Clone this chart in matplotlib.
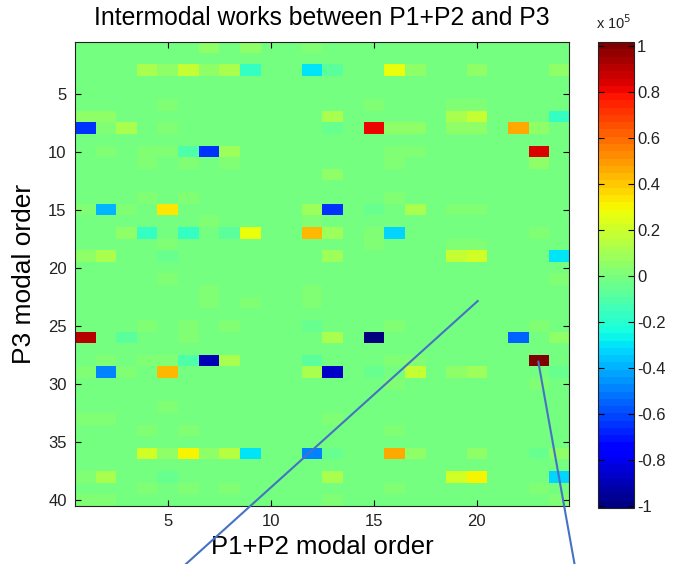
import matplotlib

matplotlib.use("Agg")
import matplotlib.pyplot as plt
import numpy as np
from matplotlib.lines import Line2D

plt.rcParams["font.family"] = ["Liberation Sans", "DejaVu Sans"]

N_P3 = 40      # rows: P3 modal order
N_P12 = 24     # columns: P1+P2 modal order

# non-zero intermodal works, in units of 1e5
P3_MODE = [
    1, 1, 1,
    3, 3, 3, 3, 3, 3, 3, 3, 3, 3, 3, 3,
    6, 6, 6, 6,
    7, 7, 7, 7, 7, 7,
    8, 8, 8, 8, 8, 8, 8, 8, 8, 8, 8, 8,
    10, 10, 10, 10, 10, 10, 10, 10, 10,
    11, 11, 11, 11, 11,
    12,
    14, 14, 14,
    15, 15, 15, 15, 15, 15, 15, 15, 15, 15,
    16, 16,
    17, 17, 17, 17, 17, 17, 17, 17, 17, 17,
    18, 18, 18, 18,
    19, 19, 19, 19, 19, 19, 19,
    21, 21,
    22, 22,
    23, 23, 23,
    25, 25, 25, 25, 25, 25,
    26, 26, 26, 26, 26, 26, 26,
    28, 28, 28, 28, 28, 28, 28, 28, 28, 28,
    29, 29, 29, 29, 29, 29, 29, 29, 29, 29, 29,
    30, 30,
    32,
    33, 33, 33,
    34, 34, 34,
    36, 36, 36, 36, 36, 36, 36, 36, 36, 36, 36, 36, 36,
    38, 38, 38, 38, 38, 38, 38,
    39, 39, 39, 39, 39,
    40, 40, 40, 40,
]
P12_MODE = [
    7, 9, 12,
    4, 5, 6, 7, 8, 9, 12, 13, 16, 17, 20, 24,
    5, 15, 19, 20,
    1, 2, 13, 19, 20, 24,
    1, 2, 3, 5, 13, 15, 16, 17, 19, 20, 22, 23,
    2, 4, 5, 6, 7, 8, 16, 17, 23,
    4, 6, 8, 16, 23,
    13,
    4, 6, 16,
    1, 2, 3, 5, 12, 13, 15, 17, 19, 20,
    7, 12,
    3, 4, 6, 8, 9, 12, 13, 15, 16, 23,
    5, 15, 19, 20,
    1, 2, 5, 13, 19, 20, 24,
    5, 24,
    7, 12,
    7, 9, 12,
    4, 6, 8, 12, 16, 23,
    1, 3, 6, 13, 15, 22, 24,
    2, 4, 5, 6, 7, 8, 12, 16, 17, 23,
    1, 2, 3, 5, 12, 13, 15, 17, 19, 20, 24,
    16, 23,
    5,
    1, 2, 13,
    4, 6, 16,
    4, 5, 6, 7, 8, 9, 12, 13, 16, 17, 20, 23, 24,
    1, 2, 5, 13, 19, 20, 24,
    4, 6, 8, 16, 23,
    1, 2, 13, 24,
]
WORK_E5 = [
    0.04, 0.04, 0.03,
    0.12, 0.04, 0.17, 0.04, 0.12, -0.18, -0.30, -0.06, 0.27, 0.04, 0.04, 0.05,
    0.03, 0.03, 0.03, 0.03,
    0.04, 0.04, 0.10, 0.12, 0.19, -0.18,
    -0.65, 0.03, 0.10, 0.03, -0.05, 0.80, 0.04, 0.04, 0.04, 0.04, 0.47, 0.05,
    0.03, 0.03, 0.03, -0.10, -0.65, 0.08, 0.03, 0.03, 0.83,
    0.03, 0.03, 0.03, 0.03, 0.04,
    0.05,
    0.03, 0.03, 0.03,
    0.03, -0.40, 0.03, 0.35, 0.07, -0.65, -0.05, 0.13, 0.03, 0.03,
    0.03, 0.03,
    0.04, -0.16, -0.16, -0.07, 0.26, 0.44, 0.08, 0.03, -0.32, 0.03,
    0.03, 0.03, 0.03, 0.03,
    0.04, 0.10, -0.05, 0.08, 0.19, 0.22, -0.31,
    0.03, 0.03,
    0.03, 0.03,
    0.03, 0.03, 0.03,
    0.03, 0.03, 0.03, -0.05, 0.03, 0.03,
    0.90, -0.09, 0.03, 0.10, -1.009, -0.55, 0.04,
    0.03, 0.03, 0.03, -0.12, -0.89, 0.12, -0.06, 0.03, 0.03, 1.017,
    0.03, -0.49, 0.03, 0.44, 0.11, -0.87, -0.05, 0.17, 0.04, 0.07, -0.05,
    0.03, 0.03,
    0.03,
    0.03, 0.03, 0.03,
    0.03, 0.03, 0.03,
    0.22, 0.04, 0.30, 0.04, 0.14, -0.31, -0.49, -0.05, 0.46, 0.04, 0.04, -0.05, 0.04,
    0.03, 0.11, -0.05, 0.10, 0.22, 0.30, -0.32,
    0.03, 0.03, 0.03, 0.03, 0.03,
    0.03, 0.03, 0.03, 0.03,
]

X_TICKS = [5, 10, 15, 20]
Y_TICKS = [5, 10, 15, 20, 25, 30, 35, 40]
CBAR_TICKS = [-1, -0.8, -0.6, -0.4, -0.2, 0, 0.2, 0.4, 0.6, 0.8, 1]
CBAR_LABELS = ["-1", "-0.8", "-0.6", "-0.4", "-0.2", "0", "0.2", "0.4", "0.6", "0.8", "1"]

work = np.zeros((N_P3, N_P12))
for r, c, v in zip(P3_MODE, P12_MODE, WORK_E5):
    work[r - 1, c - 1] = v

fig = plt.figure(figsize=(6.76, 5.64), dpi=100)
ax = fig.add_axes([0.111, 0.1034, 0.7314, 0.8227])
cax = fig.add_axes([0.8846, 0.0993, 0.0537, 0.826])

im = ax.imshow(
    work,
    cmap=plt.get_cmap("jet", 64),
    vmin=work.min(),
    vmax=work.max(),
    extent=(0.5, N_P12 + 0.5, N_P3 + 0.5, 0.5),
    aspect="auto",
    interpolation="nearest",
)

ax.set_xticks(X_TICKS)
ax.set_yticks(Y_TICKS)
ax.tick_params(direction="in", top=True, right=True, length=4, width=0.8,
               labelsize=12, labelcolor="#222222", pad=6)
for sp in ax.spines.values():
    sp.set_color("#222222")
ax.set_title("Intermodal works between P1+P2 and P3", fontsize=17.8, pad=12)
ax.set_xlabel("P1+P2 modal order", fontsize=18.5, labelpad=4)
ax.set_ylabel("P3 modal order", fontsize=19, labelpad=9)

cb = fig.colorbar(im, cax=cax, ticks=CBAR_TICKS)
cb.set_ticklabels(CBAR_LABELS)
cax.tick_params(direction="in", left=True, right=True, length=4, width=0.8,
                labelsize=12, labelcolor="#222222", pad=2)
cb.outline.set_edgecolor("#222222")
fig.text(0.882, 0.948, r"x 10$^5$", fontsize=10.5, color="#222222")

# pointer lines laid over the figure
for (x0, y0), (x1, y1) in [((0.7067, 0.4663), (0.2751, 0.0)),
                           ((0.7963, 0.3587), (0.8499, 0.0))]:
    fig.add_artist(Line2D([x0, x1], [y0, y1], transform=fig.transFigure,
                          color="#4672C4", lw=1.5))

fig.savefig("out.png", dpi=100)
